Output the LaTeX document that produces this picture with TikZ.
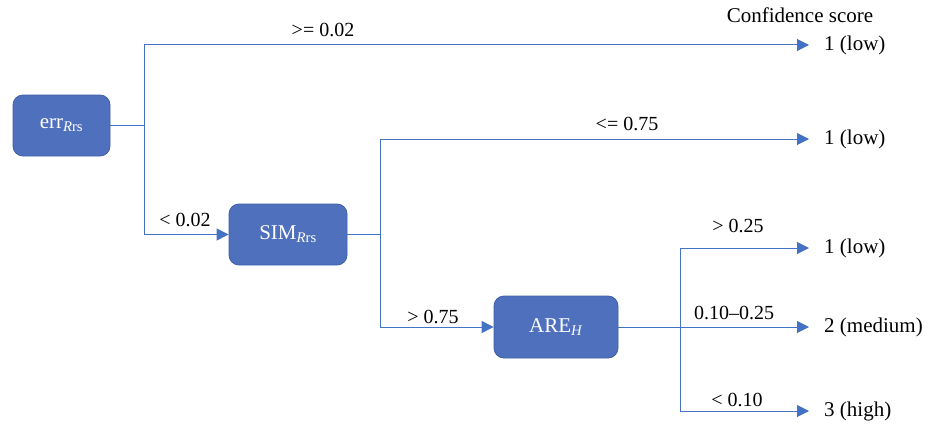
\documentclass[tikz,border=0pt]{standalone}
\usepackage{fontspec}
\setmainfont{Liberation Serif}
\usetikzlibrary{arrows.meta}
\definecolor{boxfill}{HTML}{4F70BD}
\definecolor{boxline}{HTML}{3F5FA5}
\definecolor{linecol}{HTML}{4472C4}
\tikzset{
  decbox/.style={draw=boxline, fill=boxfill, rounded corners=10pt, line width=0.8pt,
    text=white, font=\fontsize{21}{25}\selectfont, inner sep=0pt},
  conn/.style={draw=linecol, line width=1pt},
  arr/.style={conn, -{Triangle[length=12pt,width=12pt]}},
  lbl/.style={font=\fontsize{20}{24}\selectfont, anchor=base, inner sep=0pt},
  outc/.style={font=\fontsize{21}{25}\selectfont, anchor=west, inner xsep=15pt, inner ysep=0pt}
}
\begin{document}
\begin{tikzpicture}[x=1pt,y=-1pt]
\useasboundingbox (0,0) rectangle (929,428);
% boxes
\node[decbox, minimum width=97pt, minimum height=61pt] (err) at (61.5,125.5) {err\textsubscript{\textit{R}rs}};
\node[decbox, minimum width=118pt, minimum height=61pt] (sim) at (288,234.5) {SIM\textsubscript{\textit{R}rs}};
\node[decbox, minimum width=124pt, minimum height=62pt] (are) at (556,327) {ARE\textsubscript{\textit{H}}};
% outcomes
\node[font=\fontsize{21}{25}\selectfont, anchor=base, inner sep=0pt] (title) at (800,23) {Confidence score};
\node[outc] (o1) at (809,45) {1 (low)};
\node[outc] (o2) at (809,139) {1 (low)};
\node[outc] (o3) at (809,248) {1 (low)};
\node[outc] (o4) at (809,327) {2 (medium)};
\node[outc] (o5) at (809,411) {3 (high)};
% junctions
\coordinate (j1) at (144,125.5);
\coordinate (j2) at (380,234.5);
\coordinate (j3) at (680,327);
% connectors
\draw[conn] (err.east) -- (j1);
\draw[arr] (j1) |- (o1.west);
\draw[arr] (j1) |- (sim.west);
\draw[conn] (sim.east) -- (j2);
\draw[arr] (j2) |- (o2.west);
\draw[arr] (j2) |- (are.west);
\draw[arr] (are.east) -- (o4.west);
\draw[arr] (j3) |- (o3.west);
\draw[arr] (j3) |- (o5.west);
% labels
\node[lbl] (l1) at (323,37) {>= 0.02};
\node[lbl] (l2) at (185,226) {< 0.02};
\node[lbl] (l3) at (627,130) {<= 0.75};
\node[lbl] (l4) at (433,323) {> 0.75};
\node[lbl] (l5) at (738,232) {> 0.25};
\node[lbl] (l6) at (734,319) {0.10–0.25};
\node[lbl] (l7) at (737,406) {< 0.10};
\end{tikzpicture}
\end{document}
